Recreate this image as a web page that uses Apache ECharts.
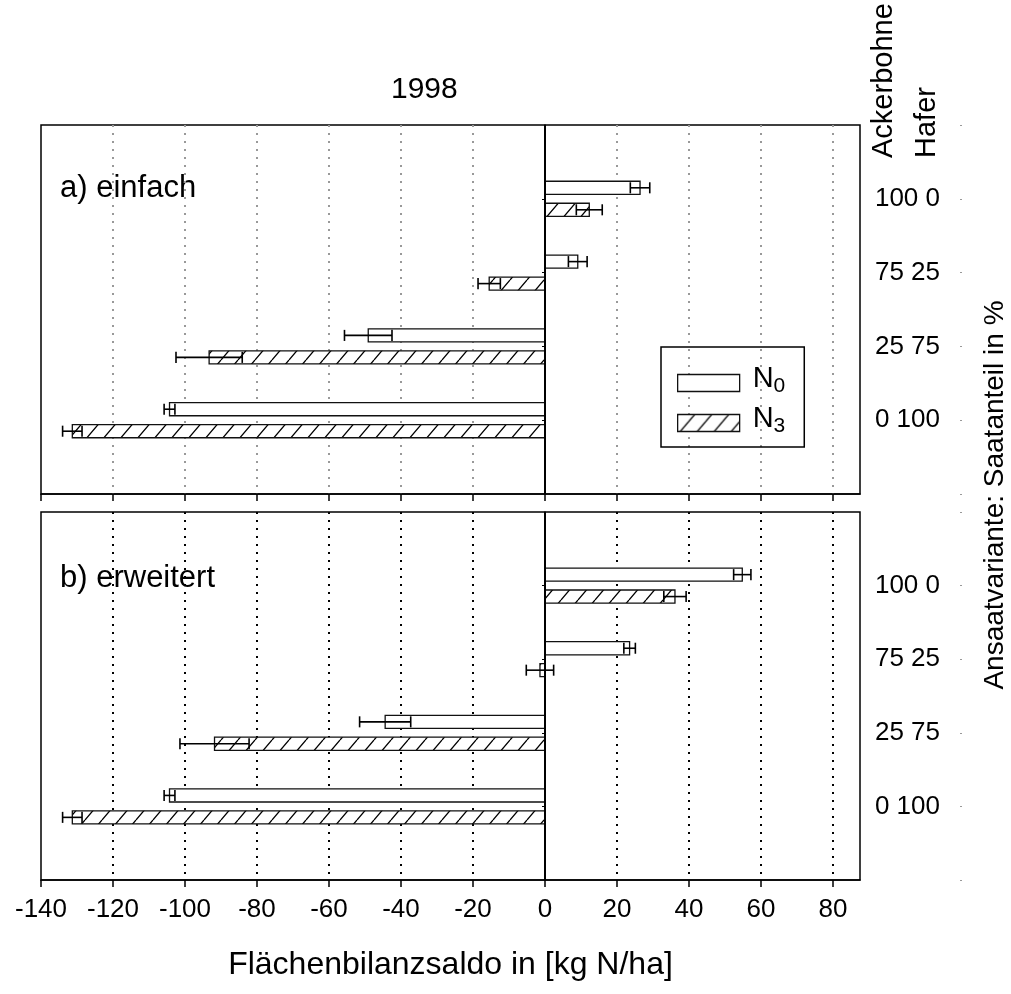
<!DOCTYPE html>
<html>
<head>
<meta charset="utf-8">
<script src="https://cdn.jsdelivr.net/npm/echarts@6/dist/echarts.min.js"></script>
<style>
html,body{margin:0;padding:0;background:#fff;}
#chart{width:1011px;height:994px;}
</style>
</head>
<body>
<div id="chart"></div>
<script>
// ---- data ----
const categories = ['100 0', '75 25', '25 75', '0 100'];
const xTicks = [-140, -120, -100, -80, -60, -40, -20, 0, 20, 40, 60, 80];

const einfachN0 = [26.4, 9.1, -49.1, -104.3];
const einfachN0Err = [2.7, 2.6, 6.6, 1.5];
const einfachN3 = [12.3, -15.5, -93.3, -131.3];
const einfachN3Err = [3.6, 3.1, 9.2, 2.7];

const erweitertN0 = [54.8, 23.5, -44.4, -104.3];
const erweitertN0Err = [2.4, 1.6, 7.1, 1.5];
const erweitertN3 = [36.1, -1.4, -91.8, -131.3];
const erweitertN3Err = [3.1, 3.8, 9.6, 2.7];

// ---- styling helpers ----
const FONT = 'Liberation Sans, Arial, sans-serif';
const axisCats = [''].concat(categories, ['']);

function makeHatch() {
  const w = 17, h = 20;
  const c = document.createElement('canvas');
  c.width = w; c.height = h;
  const g = c.getContext('2d');
  g.fillStyle = '#fff';
  g.fillRect(0, 0, w, h);
  g.strokeStyle = '#000';
  g.lineWidth = 1.3;
  g.beginPath();
  g.moveTo(0, h); g.lineTo(w, 0);
  g.moveTo(-w, h); g.lineTo(0, 0);
  g.moveTo(w, h); g.lineTo(2 * w, 0);
  g.stroke();
  return c;
}
const hatch = { image: makeHatch(), repeat: 'repeat' };

function buildData(vals, errs) {
  return vals.map((v, i) => [v, i + 1, errs[i]]);
}

function barRenderer(offsetFrac, fill) {
  return function (params, api) {
    const v = api.value(0), c = api.value(1), e = api.value(2);
    const pc = api.coord([0, c]);
    const pn = api.coord([0, c + 1]);
    const step = Math.abs(pn[1] - pc[1]);
    const cy = pc[1] + offsetFrac * step;
    const h = 0.178 * step;
    const p1 = api.coord([v, c]);
    const pl = api.coord([v - e, c]);
    const pr = api.coord([v + e, c]);
    const cap = 0.075 * step;
    const x0 = Math.min(pc[0], p1[0]);
    const wdt = Math.abs(p1[0] - pc[0]);
    return {
      type: 'group',
      children: [
        { type: 'rect', shape: { x: x0, y: cy - h / 2, width: wdt, height: h },
          style: { fill: fill, stroke: '#111', lineWidth: 1.3 } },
        { type: 'line', shape: { x1: pl[0], y1: cy, x2: pr[0], y2: cy },
          style: { stroke: '#000', lineWidth: 1.6 } },
        { type: 'line', shape: { x1: pl[0], y1: cy - cap, x2: pl[0], y2: cy + cap },
          style: { stroke: '#000', lineWidth: 1.6 } },
        { type: 'line', shape: { x1: pr[0], y1: cy - cap, x2: pr[0], y2: cy + cap },
          style: { stroke: '#000', lineWidth: 1.6 } }
      ]
    };
  };
}

function zeroLine() {
  return {
    silent: true, symbol: 'none', label: { show: false },
    lineStyle: { color: '#000', type: 'solid', width: 2 },
    data: [{ xAxis: 0 }]
  };
}

function xAxisFor(gridIndex, showLabels, dotColor) {
  return {
    type: 'value', gridIndex: gridIndex, min: -140, max: 87.5, interval: 20,
    axisLine: { show: true, lineStyle: { color: '#000', width: 1.5 } },
    axisTick: { show: true, length: 7, customValues: xTicks, lineStyle: { color: '#000', width: 1.5 } },
    axisLabel: { show: showLabels, customValues: xTicks, fontSize: 26, color: '#000', fontFamily: FONT, margin: 17 },
    splitLine: { show: true, showMinLine: false, showMaxLine: true, lineStyle: { color: dotColor, type: [2, 6], width: 2 } },
    name: showLabels ? 'Flächenbilanzsaldo in [kg N/ha]' : '',
    nameLocation: 'middle', nameGap: 69,
    nameTextStyle: { fontSize: 32, color: '#000', fontFamily: FONT }
  };
}

function yAxesFor(gridIndex) {
  return [
    {
      type: 'category', gridIndex: gridIndex, data: axisCats, boundaryGap: false, inverse: true,
      position: 'left',
      axisLine: { show: true, lineStyle: { color: '#000', width: 1.5 } },
      axisTick: { show: true, length: 3, interval: (i) => i > 0 && i < 5, lineStyle: { color: '#000' } },
      axisLabel: { show: false },
      splitLine: { show: false }
    },
    {
      type: 'category', gridIndex: gridIndex, data: axisCats, boundaryGap: false, inverse: true,
      position: 'right', offset: 100,
      axisLine: { show: false },
      axisTick: { show: true, length: 2, interval: 0, lineStyle: { color: '#999' } },
      axisLabel: { show: true, inside: true, margin: 20, interval: 0, fontSize: 26, color: '#000', fontFamily: FONT },
      splitLine: { show: false }
    }
  ];
}

const chart = echarts.init(document.getElementById('chart'), null, { renderer: 'canvas' });

const option = {
  backgroundColor: '#fff',
  animation: false,
  title: {
    text: '1998', left: 386, top: 70,
    textStyle: { fontSize: 30, fontWeight: 'normal', color: '#000', fontFamily: FONT }
  },
  legend: {
    left: 661, top: 347, orient: 'vertical', icon: 'rect',
    itemWidth: 62, itemHeight: 17, itemGap: 7,
    padding: [17, 19, 10, 16],
    borderColor: '#000', borderWidth: 1.5,
    selectedMode: false,
    data: [
      { name: 'N0', itemStyle: { color: '#fff', borderColor: '#111', borderWidth: 1.3 } },
      { name: 'N3', itemStyle: { color: hatch, borderColor: '#111', borderWidth: 1.3 } }
    ],
    formatter: (name) => '{n|N}{s|' + name.slice(1) + '}',
    textStyle: {
      color: '#000', fontFamily: FONT,
      rich: {
        n: { fontSize: 29, lineHeight: 28, padding: [0, 0, 4, 8], verticalAlign: 'bottom', fontFamily: FONT, color: '#000' },
        s: { fontSize: 21, lineHeight: 20, verticalAlign: 'bottom', fontFamily: FONT, color: '#000' }
      }
    }
  },
  grid: [
    { left: 41, top: 125, width: 819, height: 369, show: true, borderColor: '#000', borderWidth: 1.5, backgroundColor: 'transparent' },
    { left: 41, top: 512, width: 819, height: 368, show: true, borderColor: '#000', borderWidth: 1.5, backgroundColor: 'transparent' }
  ],
  xAxis: [xAxisFor(0, false, '#999'), xAxisFor(1, true, '#000')],
  yAxis: yAxesFor(0).concat(yAxesFor(1)),
  graphic: [
    { type: 'text', left: 60, top: 173, style: { text: 'a) einfach', fontSize: 31, fill: '#000', fontFamily: FONT } },
    { type: 'text', left: 60, top: 563, style: { text: 'b) erweitert', fontSize: 31, fill: '#000', fontFamily: FONT } },
    { type: 'text', x: 884, y: 158, rotation: Math.PI / 2,
      style: { text: 'Ackerbohne', fontSize: 29, fill: '#000', fontFamily: FONT, align: 'left', verticalAlign: 'middle' } },
    { type: 'text', x: 927, y: 158, rotation: Math.PI / 2,
      style: { text: 'Hafer', fontSize: 29, fill: '#000', fontFamily: FONT, align: 'left', verticalAlign: 'middle' } },
    { type: 'text', x: 995, y: 495, rotation: Math.PI / 2,
      style: { text: 'Ansaatvariante: Saatanteil in %', fontSize: 28, fill: '#000', fontFamily: FONT, align: 'center', verticalAlign: 'middle' } }
  ],
  series: [
    { name: 'N0', type: 'custom', xAxisIndex: 0, yAxisIndex: 0, renderItem: barRenderer(-0.149, '#fff'),
      itemStyle: { color: '#fff', borderColor: '#111' }, encode: { x: 0, y: 1 },
      data: buildData(einfachN0, einfachN0Err), markLine: zeroLine(), z: 3 },
    { name: 'N3', type: 'custom', xAxisIndex: 0, yAxisIndex: 0, renderItem: barRenderer(0.149, hatch),
      itemStyle: { color: hatch, borderColor: '#111' }, encode: { x: 0, y: 1 },
      data: buildData(einfachN3, einfachN3Err), z: 3 },
    { name: 'N0', type: 'custom', xAxisIndex: 1, yAxisIndex: 2, renderItem: barRenderer(-0.149, '#fff'),
      itemStyle: { color: '#fff', borderColor: '#111' }, encode: { x: 0, y: 1 },
      data: buildData(erweitertN0, erweitertN0Err), markLine: zeroLine(), z: 3 },
    { name: 'N3', type: 'custom', xAxisIndex: 1, yAxisIndex: 2, renderItem: barRenderer(0.149, hatch),
      itemStyle: { color: hatch, borderColor: '#111' }, encode: { x: 0, y: 1 },
      data: buildData(erweitertN3, erweitertN3Err), z: 3 }
  ]
};
chart.setOption(option);
</script>
</body>
</html>
